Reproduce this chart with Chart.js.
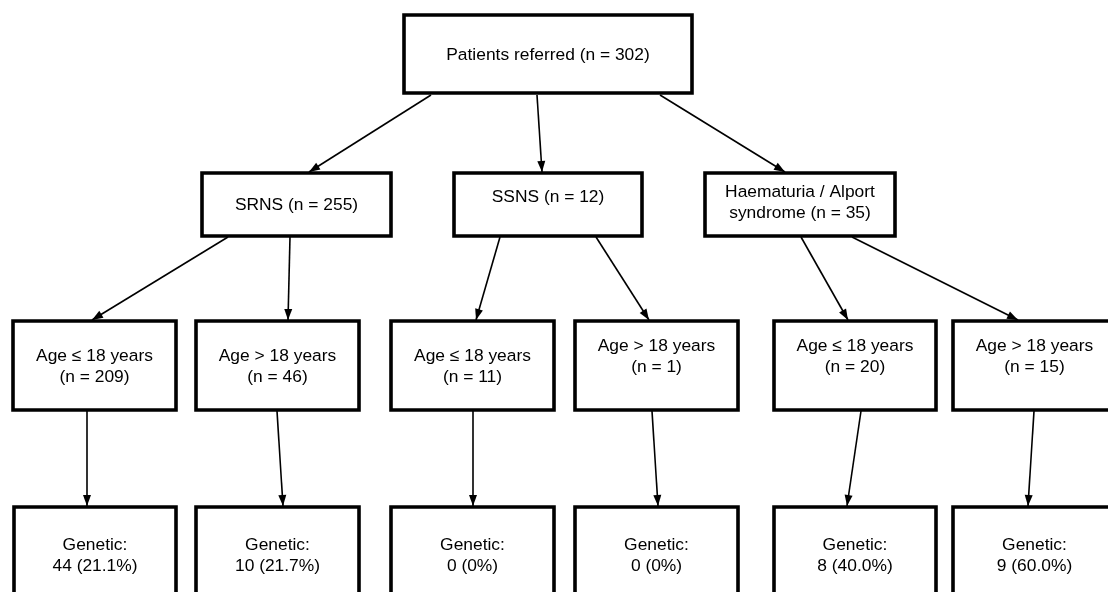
<!DOCTYPE html>
<html>
<head>
<meta charset="utf-8">
<style>
  html, body { margin: 0; padding: 0; background: #fff; overflow: hidden; }
  canvas { display: block; }
</style>
</head>
<body>
<canvas id="flowGraph" width="1108" height="592"></canvas>
<script src="https://cdn.jsdelivr.net/npm/chart.js@4/dist/chart.umd.min.js"></script>
<script>
// Flow data: counts
const referredN = 302;
const groupNames = ['SRNS', 'SSNS', 'Haematuria / Alport syndrome'];
const groupN = [255, 12, 35];
const ageBands = ['Age \u2264 18 years', 'Age > 18 years'];
const ageN = [209, 46, 11, 1, 20, 15];
const geneticN = [44, 10, 0, 0, 8, 9];
const geneticPct = ['21.1%', '21.7%', '0%', '0%', '40.0%', '60.0%'];

// Box layout (in axis units = page pixels)
const boxLeft   = [404, 202, 454, 705,  13, 196, 391, 575, 774, 953,  14, 196, 391, 575, 774, 953];
const boxRight  = [692, 391, 642, 895, 176, 359, 554, 738, 936, 1116, 176, 359, 554, 738, 936, 1116];
const boxTop    = [ 15, 173, 173, 173, 321, 321, 321, 321, 321, 321, 507, 507, 507, 507, 507, 507];
const boxBottom = [ 93, 236, 236, 236, 410, 410, 410, 410, 410, 410, 610, 610, 610, 610, 610, 610];
const textY     = [ 55, 205, 197, 192, 356, 356, 356, 346, 346, 346, 545, 545, 545, 545, 545, 545];

// Arrows: start and end points
const arrowX0 = [431, 537, 660, 228, 290, 500, 596, 801, 852,  87, 277, 473, 652, 861, 1034];
const arrowY0 = [ 95,  95,  95, 237, 237, 237, 237, 237, 237, 411, 411, 411, 411, 411, 411];
const arrowX1 = [309, 542, 785,  92, 288, 476, 649, 848, 1018, 87, 283, 473, 658, 847, 1028];
const arrowY1 = [172, 172, 172, 320, 320, 320, 320, 320, 320, 506, 506, 506, 506, 506, 506];

// Build text for each box
const boxText = [['Patients referred (n = ' + referredN + ')']];
boxText.push([groupNames[0] + ' (n = ' + groupN[0] + ')']);
boxText.push([groupNames[1] + ' (n = ' + groupN[1] + ')']);
boxText.push(['Haematuria / Alport', 'syndrome (n = ' + groupN[2] + ')']);
ageN.forEach((n, i) => boxText.push([ageBands[i % 2], '(n = ' + n + ')']));
geneticN.forEach((n, i) => boxText.push(['Genetic:', n + ' (' + geneticPct[i] + ')']));

const datasets = [];

boxLeft.forEach((l, i) => {
  const r = boxRight[i], t = boxTop[i], b = boxBottom[i];
  datasets.push({
    type: 'line',
    data: [{x: l, y: t}, {x: r, y: t}, {x: r, y: b}, {x: l, y: b}, {x: l, y: t}],
    borderColor: '#000',
    borderWidth: 3.6,
    borderJoinStyle: 'miter',
    borderCapStyle: 'square',
    pointRadius: 0,
    tension: 0,
    fill: false,
    clip: false
  });
});

arrowX0.forEach((x0, i) => {
  datasets.push({
    type: 'line',
    data: [{x: x0, y: arrowY0[i]}, {x: arrowX1[i], y: arrowY1[i]}],
    borderColor: '#000',
    borderWidth: 1.6,
    pointRadius: 0,
    tension: 0,
    fill: false,
    clip: false
  });
});

// Draws arrowheads and box labels through the scales
const flowPlugin = {
  id: 'flowPlugin',
  afterDatasetsDraw(chart) {
    const ctx = chart.ctx;
    const xs = chart.scales.x, ys = chart.scales.y;
    ctx.save();
    ctx.fillStyle = '#000';
    arrowX0.forEach((x0, i) => {
      const px0 = xs.getPixelForValue(x0), py0 = ys.getPixelForValue(arrowY0[i]);
      const px1 = xs.getPixelForValue(arrowX1[i]), py1 = ys.getPixelForValue(arrowY1[i]);
      const ang = Math.atan2(py1 - py0, px1 - px0);
      const len = 11, half = 4;
      ctx.beginPath();
      ctx.moveTo(px1, py1);
      ctx.lineTo(px1 - len * Math.cos(ang) + half * Math.sin(ang), py1 - len * Math.sin(ang) - half * Math.cos(ang));
      ctx.lineTo(px1 - len * Math.cos(ang) - half * Math.sin(ang), py1 - len * Math.sin(ang) + half * Math.cos(ang));
      ctx.closePath();
      ctx.fill();
    });

    ctx.font = '17.4px "Liberation Sans", Arial, sans-serif';
    ctx.textAlign = 'center';
    ctx.textBaseline = 'middle';
    boxText.forEach((lines, i) => {
      const cx = xs.getPixelForValue((boxLeft[i] + boxRight[i]) / 2);
      lines.forEach((txt, k) => {
        ctx.fillText(txt, cx, ys.getPixelForValue(textY[i] + k * 21));
      });
    });
    ctx.restore();
  }
};

const flowCtx = document.getElementById('flowGraph').getContext('2d');
new Chart(flowCtx, {
  type: 'scatter',
  data: { datasets: datasets },
  options: {
    responsive: false,
    devicePixelRatio: 1,
    animation: false,
    layout: { padding: 0 },
    plugins: {
      legend: { display: false },
      tooltip: { enabled: false }
    },
    scales: {
      x: { type: 'linear', min: 0, max: 1108, display: false },
      y: { type: 'linear', min: 0, max: 592, reverse: true, display: false }
    }
  },
  plugins: [flowPlugin]
});
</script>
</body>
</html>
